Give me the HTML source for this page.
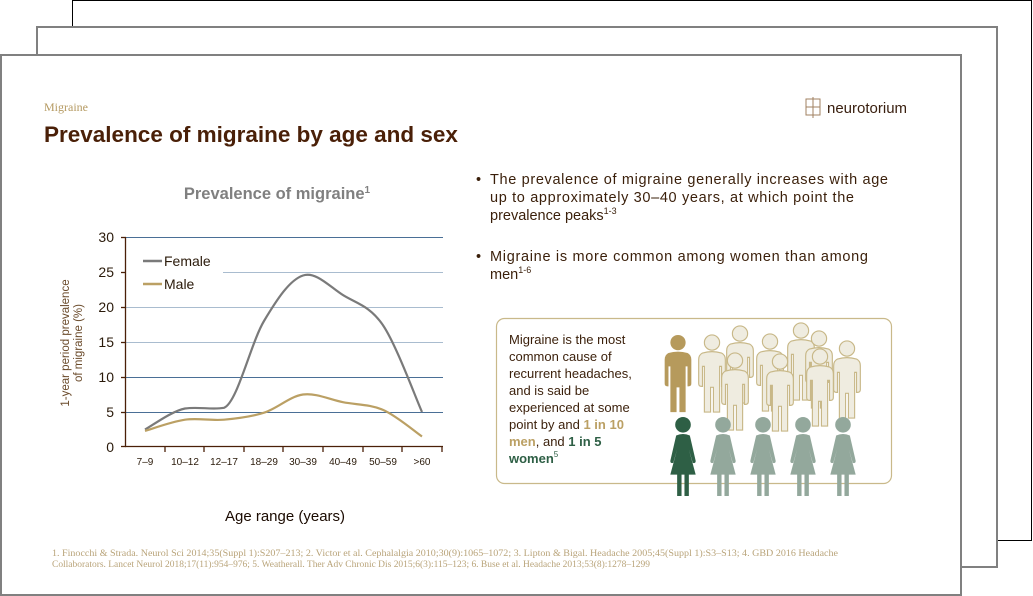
<!DOCTYPE html>
<html><head><meta charset="utf-8"><style>
html,body{margin:0;padding:0;background:#fff;}
svg{display:block;font-family:"Liberation Sans",sans-serif;}
</style></head><body>
<svg width="1033" height="596" viewBox="0 0 1033 596" xmlns="http://www.w3.org/2000/svg">
<defs>
<symbol id="man" viewBox="0 0 30 84">
<circle cx="15" cy="9" r="8"/>
<path d="M5 20 Q15 17 25 20 Q29 22 29 27 L29 52 Q29 55 26 55 L25 55 L25 34 L23 34 L23 82 L16.5 82 L16.5 56 L13.5 56 L13.5 82 L7 82 L7 34 L5 34 L5 55 L4 55 Q1 55 1 52 L1 27 Q1 22 5 20Z"/>
</symbol>
<symbol id="woman" viewBox="0 0 30 84">
<circle cx="15" cy="9" r="8"/>
<path d="M8 20 Q15 17 22 20 L28 46 Q28 49 25 48 L21 34 L28 60 L21 60 L21 82 L16.5 82 L16.5 60 L13.5 60 L13.5 82 L9 82 L9 60 L2 60 L9 34 L5 48 Q2 49 2 46Z"/>
</symbol>
</defs>
<rect x="72.5" y="0.5" width="959" height="540" fill="#fff" stroke="#000" stroke-width="1"/>
<rect x="37" y="27" width="960" height="540" fill="#fff" stroke="#808080" stroke-width="2"/>
<rect x="1" y="55" width="960" height="540" fill="#fff" stroke="#808080" stroke-width="2"/>

<text x="44" y="111" font-family="Liberation Serif,serif" font-size="12" fill="#b59a62">Migraine</text>
<text x="44" y="142" font-size="22.5" font-weight="bold" fill="#4a2008">Prevalence of migraine by age and sex</text>

<g stroke="#a08060" stroke-width="1" fill="none">
<rect x="806" y="99" width="14" height="16"/><line x1="813" y1="97" x2="813" y2="118"/><line x1="806" y1="107" x2="820" y2="107"/>
</g>
<text x="827" y="113" font-size="15" fill="#3a2010">neurotorium</text>

<text x="277" y="199" font-size="16.5" font-weight="bold" fill="#808080" text-anchor="middle">Prevalence of migraine<tspan font-size="10" dy="-6">1</tspan></text>
<g stroke-width="1">
<line x1="126" y1="237.5" x2="443" y2="237.5" stroke="#4a6f96"/>
<line x1="223" y1="272.5" x2="443" y2="272.5" stroke="#a9bccf"/>
<line x1="126" y1="307.5" x2="443" y2="307.5" stroke="#a9bccf"/>
<line x1="126" y1="342.5" x2="443" y2="342.5" stroke="#a9bccf"/>
<line x1="126" y1="377.5" x2="443" y2="377.5" stroke="#4a6f96"/>
<line x1="126" y1="412.5" x2="443" y2="412.5" stroke="#4a6f96"/>
</g>
<g stroke="#4a2008" stroke-width="1.3">
<line x1="125.5" y1="237" x2="125.5" y2="447"/>
<line x1="125" y1="446.5" x2="443" y2="446.5"/>
<line x1="121" y1="237.5" x2="126" y2="237.5"/><line x1="121" y1="272.5" x2="126" y2="272.5"/>
<line x1="121" y1="307.5" x2="126" y2="307.5"/><line x1="121" y1="342.5" x2="126" y2="342.5"/>
<line x1="121" y1="377.5" x2="126" y2="377.5"/><line x1="121" y1="412.5" x2="126" y2="412.5"/>
<line x1="121" y1="446.5" x2="126" y2="446.5"/>
<line x1="165" y1="447" x2="165" y2="452"/><line x1="204" y1="447" x2="204" y2="452"/>
<line x1="244" y1="447" x2="244" y2="452"/><line x1="283" y1="447" x2="283" y2="452"/>
<line x1="323" y1="447" x2="323" y2="452"/><line x1="363" y1="447" x2="363" y2="452"/>
<line x1="402" y1="447" x2="402" y2="452"/><line x1="442" y1="447" x2="442" y2="452"/>
</g>
<g font-size="14" fill="#2a1a0a" text-anchor="end">
<text x="114" y="242">30</text><text x="114" y="277">25</text><text x="114" y="312">20</text>
<text x="114" y="347">15</text><text x="114" y="382">10</text><text x="114" y="417">5</text><text x="114" y="452">0</text>
</g>
<g font-size="10" fill="#2a1a0a" text-anchor="middle">
<text x="145" y="465">7–9</text><text x="185" y="465">10–12</text><text x="224" y="465">12–17</text>
<text x="264" y="465">18–29</text><text x="303" y="465">30–39</text><text x="343" y="465">40–49</text>
<text x="383" y="465">50–59</text><text x="422" y="465">&gt;60</text>
</g>
<text x="285" y="521" font-size="15" fill="#1a0a00" text-anchor="middle">Age range (years)</text>
<g transform="translate(71,343) rotate(-90)" font-size="11.5" fill="#6a4a2a" text-anchor="middle">
<text x="0" y="-2">1-year period prevalence</text><text x="0" y="11">of migraine (%)</text>
</g>
<path d="M145 429.5 C151.7 426 171.8 411 185 408.5 C198.2 406.5 212 410 224 407.8 C237.2 403 250.8 343 264 321 C277.2 299 289.8 279.8 303 275.5 C316.2 271.2 329.7 286.8 343 295.1 C356.3 303.4 369.8 305.7 383 325.2 C396.2 344.7 415.5 397.5 422 412" fill="none" stroke="#7a7a7a" stroke-width="2.2"/>
<path d="M145 430.9 C151.7 429 171.8 421.6 185 419.7 C198.2 417.8 210.8 420.9 224 419.7 C237.2 418.5 250.8 416.9 264 412.7 C277.2 408.5 289.8 396.3 303 394.5 C316.2 392.8 329.7 399.6 343 402.2 C356.3 404.8 369.8 404.2 383 409.9 C396.2 415.6 415.5 432.1 422 436.5" fill="none" stroke="#bba064" stroke-width="2.2"/>
<line x1="143" y1="261" x2="162" y2="261" stroke="#7a7a7a" stroke-width="2.5"/>
<text x="164" y="266" font-size="14" fill="#2a1a0a">Female</text>
<line x1="143" y1="284" x2="162" y2="284" stroke="#bba064" stroke-width="2.5"/>
<text x="164" y="289" font-size="14" fill="#2a1a0a">Male</text>

<g font-size="14.5" fill="#3a1f0a">
<text x="476" y="184">•</text>
<text x="490" y="184" textLength="398" lengthAdjust="spacing">The prevalence of migraine generally increases with age</text>
<text x="490" y="202" textLength="364" lengthAdjust="spacing">up to approximately  30–40 years, at which point the</text>
<text x="490" y="220">prevalence peaks<tspan font-size="9" dy="-6">1-3</tspan></text>
<text x="476" y="261">•</text>
<text x="490" y="261" textLength="378" lengthAdjust="spacing">Migraine is more common among women than among</text>
<text x="490" y="279">men<tspan font-size="9" dy="-6">1-6</tspan></text>
</g>

<rect x="496.5" y="318.5" width="395" height="165" rx="8" fill="#fff" stroke="#c9b98a" stroke-width="1.2"/>
<g font-size="13" fill="#3a1f0a">
<text x="509" y="344">Migraine is the most</text>
<text x="509" y="361">common cause of</text>
<text x="509" y="378">recurrent headaches,</text>
<text x="509" y="395">and is said be</text>
<text x="509" y="412">experienced at some</text>
<text x="509" y="429">point by and <tspan font-weight="bold" fill="#bba064">1 in 10</tspan></text>
<text x="509" y="446"><tspan font-weight="bold" fill="#bba064">men</tspan>, and <tspan font-weight="bold" fill="#2e5f45">1 in 5</tspan></text>
<text x="509" y="463" font-weight="bold" fill="#2e5f45">women<tspan font-size="8" font-weight="normal" fill="#2e5f45" dy="-6">5</tspan></text>
</g>
<g fill="#efece0" stroke="#c8b888" stroke-width="1.2">
<use href="#man" x="725" y="325" width="30" height="80"/>
<use href="#man" x="755" y="333" width="30" height="80"/>
<use href="#man" x="786" y="322" width="30" height="80"/>
<use href="#man" x="804" y="330" width="30" height="80"/>
<use href="#man" x="832" y="340" width="30" height="80"/>
<use href="#man" x="697" y="334" width="30" height="80"/>
<use href="#man" x="720" y="352" width="30" height="80"/>
<use href="#man" x="765" y="353" width="30" height="80"/>
<use href="#man" x="805" y="348" width="30" height="80"/>
</g>
<use href="#man" x="663" y="334" width="30" height="80" fill="#b69a5c"/>
<use href="#woman" x="668" y="416" width="30" height="82" fill="#2e5f45"/>
<g fill="#93a89c">
<use href="#woman" x="708" y="416" width="30" height="82"/>
<use href="#woman" x="748" y="416" width="30" height="82"/>
<use href="#woman" x="788" y="416" width="30" height="82"/>
<use href="#woman" x="828" y="416" width="30" height="82"/>
</g>

<g font-family="Liberation Serif,serif" font-size="9.3" fill="#b9a47a">
<text x="52" y="556" textLength="786" lengthAdjust="spacingAndGlyphs">1. Finocchi &amp; Strada. Neurol Sci 2014;35(Suppl 1):S207–213; 2. Victor et al. Cephalalgia 2010;30(9):1065–1072; 3. Lipton &amp; Bigal. Headache 2005;45(Suppl 1):S3–S13; 4. GBD 2016 Headache</text>
<text x="52" y="567" textLength="598" lengthAdjust="spacingAndGlyphs">Collaborators. Lancet Neurol 2018;17(11):954–976; 5. Weatherall. Ther Adv Chronic Dis 2015;6(3):115–123; 6. Buse et al. Headache 2013;53(8):1278–1299</text>
</g>
</svg>
</body></html>
